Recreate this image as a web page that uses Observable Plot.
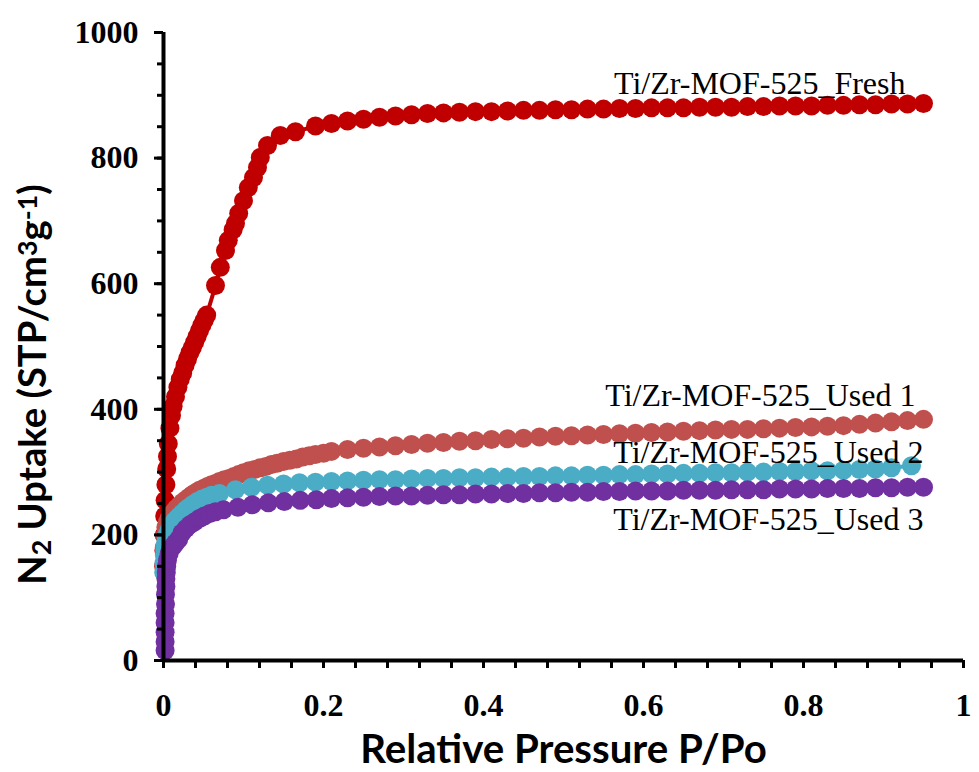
<!DOCTYPE html>
<html><head><meta charset="utf-8">
<script src="https://cdn.jsdelivr.net/npm/d3@7"></script>
<script src="https://cdn.jsdelivr.net/npm/@observablehq/plot@0.6"></script>
<style>body{margin:0;background:#fff;}</style>
</head><body><div id="chart"></div>
<script>
const seriesNames = ["Ti/Zr-MOF-525_Fresh", "Ti/Zr-MOF-525_Used 1", "Ti/Zr-MOF-525_Used 2", "Ti/Zr-MOF-525_Used 3"];
const seriesColors = ["#C00000", "#C0504D", "#4BACC6", "#7030A0"];

const gridX = [0.21,0.23,0.25,0.27,0.29,0.31,0.33,0.35,0.37,0.39,0.41,0.43,0.45,0.47,0.49,0.51,0.53,0.55,0.57,0.59,0.61,0.63,0.65,0.67,0.69,0.71,0.73,0.75,0.77,0.79,0.81,0.83,0.85,0.87,0.89,0.91,0.93,0.95];

// Fresh
const freshLowX = [0.0003,0.0005,0.001,0.0015,0.002,0.003,0.004,0.005,0.006,0.008,0.010,0.012,0.015,0.018,0.021,0.024,0.027,0.030,0.033,0.036,0.039,0.042,0.045,0.048,0.051,0.054];
const freshLowY = [150,175,200,230,255,280,305,325,345,370,390,405,420,435,448,458,470,480,490,498,507,516,525,534,542,550];
const freshMidX = [0.065,0.071,0.0775,0.081,0.087,0.09,0.094,0.1,0.106,0.1125,0.1175,0.121,0.13,0.146,0.165,0.19];
const freshMidY = [597,626,653,669,686,696,712,732,753,769,785,801,820,836,842,851];
const freshGridY = [855,859,862,865,867,869,871,872,873,874,874,875,876,876,877,877,878,878,879,879,880,880,880,881,881,881,882,882,883,883,883,884,884,885,885,886,886,887];

// Used 1
const used1LowX = [0.0005,0.001,0.002,0.003,0.005,0.007,0.01,0.013,0.016,0.02,0.024,0.028,0.032,0.036,0.04,0.045,0.05,0.055,0.06,0.065,0.07,0.076,0.082,0.088,0.094,0.1,0.107,0.114,0.121,0.128,0.135,0.142,0.15,0.158,0.166,0.174,0.182,0.19,0.2];
const used1LowY = [150,180,200,212,220,226,232,237,242,247,252,256,260,264,267,271,274,277,280,282,285,288,290,293,296,299,302,304,307,309,312,314,317,319,321,324,326,328,330];
const used1GridY = [333,336,338,340,342,344,346,347,349,350,352,353,354,356,357,358,359,360,361,362,363,364,365,366,367,368,368,369,370,371,372,373,374,376,378,380,382,384];

// Used 2
const used2LowX = [0.0003,0.0006,0.001,0.0015,0.002,0.003,0.004,0.005,0.007,0.009,0.011,0.014,0.017,0.02,0.024,0.028,0.032,0.037,0.042,0.048,0.054,0.06];
const used2LowY = [140,155,168,176,182,190,196,201,208,213,217,222,226,230,235,240,244,249,253,257,260,263];
const used2MidX = [0.07,0.09,0.11,0.13,0.15,0.17,0.19];
const used2MidY = [266,272,276,279,281,283,284];
const used2GridX = [0.21,0.23,0.25,0.27,0.29,0.31,0.33,0.35,0.37,0.39,0.41,0.43,0.45,0.47,0.49,0.51,0.53,0.55,0.57,0.59,0.61,0.63,0.65,0.67,0.69,0.71,0.73,0.75,0.77,0.79,0.81,0.83,0.85,0.87,0.89,0.91,0.935];
const used2GridY = [285,286,287,288,288,289,290,290,291,291,292,292,293,293,294,294,295,295,296,296,297,297,298,298,299,299,300,300,301,301,302,302,303,304,305,307,310];

// Used 3
const used3LowX = [0.002,0.002,0.002,0.002,0.002,0.0025,0.0025,0.003,0.003,0.0035,0.004,0.005,0.007,0.009,0.012,0.015,0.019,0.023,0.028,0.033,0.039,0.045,0.051,0.058,0.065];
const used3LowY = [16,30,45,60,75,90,105,118,130,140,150,160,170,178,182,187,193,203,210,216,221,226,230,234,237];
const used3MidX = [0.075,0.093,0.111,0.131,0.151,0.171,0.191];
const used3MidY = [240,244,248,251,253,255,256];
const used3GridY = [258,259,260,261,262,262,263,264,264,265,265,266,266,267,267,268,268,269,269,270,270,270,271,271,271,272,272,272,273,273,273,274,274,274,275,275,276,276];

const xMinorTicks = [0,0.04,0.08,0.12,0.16,0.2,0.24,0.28,0.32,0.36,0.4,0.44,0.48,0.52,0.56,0.6,0.64,0.68,0.72,0.76,0.8,0.84,0.88,0.92,0.96,1];
const xMajorTicks = [0,0.2,0.4,0.6,0.8,1];
const yMinorTicks = [0,50,100,150,200,250,300,350,400,450,500,550,600,650,700,750,800,850,900,950,1000];
const yMajorTicks = [0,200,400,600,800,1000];

const xTitle = "Relative Pressure P/Po";
const yTitle = "N2 Uptake (STP/cm3g-1)";

function rows(name, xs, ys) { return xs.map((x, i) => ({series: name, x, y: ys[i]})); }
const data = [
  rows(seriesNames[0], [...freshLowX, ...freshMidX, ...gridX], [...freshLowY, ...freshMidY, ...freshGridY]),
  rows(seriesNames[1], [...used1LowX, ...gridX], [...used1LowY, ...used1GridY]),
  rows(seriesNames[2], [...used2LowX, ...used2MidX, ...used2GridX], [...used2LowY, ...used2MidY, ...used2GridY]),
  rows(seriesNames[3], [...used3LowX, ...used3MidX, ...gridX], [...used3LowY, ...used3MidY, ...used3GridY])
];
const labelOffsets = [[-18, -20], [-8, -24], [12, -13], [0, 33]];

const marks = [];
data.forEach((d, i) => {
  marks.push(Plot.line(d, {x: "x", y: "y", stroke: seriesColors[i], strokeWidth: 4}));
  marks.push(Plot.dot(d, {x: "x", y: "y", r: 9.5, fill: seriesColors[i], stroke: "none"}));
});
data.forEach((d, i) => {
  marks.push(Plot.text(d, Plot.selectLast({x: "x", y: "y", text: "series", textAnchor: "end", lineAnchor: "middle",
    dx: labelOffsets[i][0], dy: labelOffsets[i][1], fontSize: 32, fontFamily: "Liberation Serif", fontWeight: "normal", fill: "black"})));
});

const fmt = d => String(d);
marks.push(
  Plot.axisY(yMinorTicks, {tickSize: 6, tickFormat: () => "", strokeWidth: 3, label: null, stroke: "black"}),
  Plot.axisY(yMajorTicks, {tickSize: 9, tickPadding: 16, tickFormat: fmt, fontSize: 32, fontWeight: "bold", fontFamily: "Liberation Serif", strokeWidth: 3, label: null, stroke: "black", fill: "black"}),
  Plot.axisX(xMinorTicks, {tickSize: 8, tickFormat: () => "", strokeWidth: 3, label: null, stroke: "black"}),
  Plot.axisX(xMajorTicks, {tickSize: 0, tickPadding: 33, tickFormat: fmt, fontSize: 32, fontWeight: "bold", fontFamily: "Liberation Serif", label: null, fill: "black"}),
  Plot.ruleX([0], {stroke: "black", strokeWidth: 4}),
  Plot.ruleY([0], {stroke: "black", strokeWidth: 4}),
  Plot.text([xTitle], {frameAnchor: "bottom", textAnchor: "middle", lineAnchor: "middle", dy: 90, text: d => d, fontSize: 40, fontWeight: "bold", fontFamily: "Lato", fill: "black"}),
  Plot.text([yTitle], {frameAnchor: "left", textAnchor: "middle", lineAnchor: "middle", dx: -130, dy: 38, rotate: -90, text: d => d, fontSize: 38, fontWeight: "bold", fontFamily: "Lato", fill: "black"})
);

const svg = Plot.plot({
  width: 979, height: 772,
  marginLeft: 163, marginRight: 16, marginTop: 32, marginBottom: 112,
  x: {domain: [0, 1], axis: null, label: null},
  y: {domain: [0, 1000], axis: null, label: null},
  style: {fontFamily: "Liberation Serif", background: "white", color: "black", overflow: "visible"},
  marks
});
document.getElementById("chart").append(svg);

// fit titles and build sub/superscripts
const texts = [...svg.querySelectorAll("text")];
const xt = texts.find(t => t.textContent === xTitle);
if (xt) {
  const len = xt.getComputedTextLength();
  xt.setAttribute("font-size", (40 * 407 / len).toFixed(1));
}
const yt = texts.find(t => t.textContent === yTitle);
if (yt) {
  yt.textContent = "";
  const parts = [["N", null], ["2", "sub"], [" Uptake (STP/cm", null], ["3", "sup"], ["g", null], ["-1", "sup"], [")", null]];
  const ns = "http://www.w3.org/2000/svg";
  for (const [s, kind] of parts) {
    const ts = document.createElementNS(ns, "tspan");
    ts.textContent = s;
    if (kind === "sub") { ts.setAttribute("baseline-shift", "-20%"); ts.setAttribute("font-size", "70%"); }
    if (kind === "sup") { ts.setAttribute("baseline-shift", "35%"); ts.setAttribute("font-size", "70%"); }
    yt.appendChild(ts);
  }
  const len = yt.getComputedTextLength();
  yt.setAttribute("font-size", (38 * 400 / len).toFixed(1));
}
</script></body></html>
